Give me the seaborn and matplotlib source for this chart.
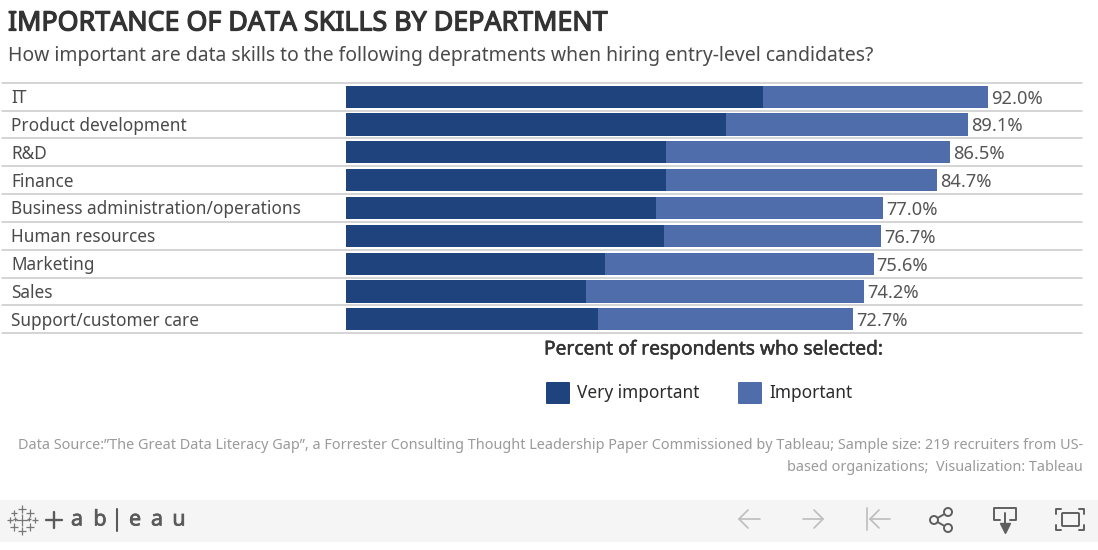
import matplotlib
matplotlib.use("Agg")
import matplotlib.pyplot as plt
import matplotlib.patheffects as pe
from matplotlib.patches import Rectangle, Circle, FancyBboxPatch
import pandas as pd
import seaborn as sns

departments = [
    "IT",
    "Product development",
    "R&D",
    "Finance",
    "Business administration/operations",
    "Human resources",
    "Marketing",
    "Sales",
    "Support/customer care",
]
very_important = [59.8, 54.5, 45.9, 45.9, 44.4, 45.6, 37.1, 34.4, 36.1]
important = [32.2, 34.6, 40.6, 38.8, 32.6, 31.1, 38.5, 39.8, 36.6]
total_labels = ["92.0%", "89.1%", "86.5%", "84.7%", "77.0%", "76.7%", "75.6%", "74.2%", "72.7%"]

DARK = "#1f447d"
LIGHT = "#4f6dab"
FONT = "Noto Sans"

sns.set_theme(style="white")
plt.rcParams["font.family"] = [FONT, "DejaVu Sans"]

df = pd.DataFrame({"department": departments, "very": very_important, "important": important})
df["total"] = df["very"] + df["important"]

fig = plt.figure(figsize=(10.98, 5.5), dpi=100)
W, H = 1098, 550

# chart runs from the top rule to the bottom rule, bars start at x=346
ax = fig.add_axes([2 / W, 1 - 333.2 / H, 1080 / W, 250.4 / H])
sns.barplot(data=df, y="department", x="total", color=LIGHT, width=0.8, saturation=1, linewidth=0, ax=ax, zorder=2)
sns.barplot(data=df, y="department", x="very", color=DARK, width=0.8, saturation=1, linewidth=0, ax=ax, zorder=3)

px_per_pct = 6.978
ax.set_xlim(-344 / px_per_pct, 736 / px_per_pct)
ax.set_ylim(len(departments) - 0.5, -0.5)
ax.set_xlabel("")
ax.set_ylabel("")
ax.set_xticks([])
ax.set_yticks([])
sns.despine(ax=ax, left=True, bottom=True)

for i in range(len(departments) + 1):
    ax.axhline(i - 0.5, color="#c9c9c9", lw=1.1, zorder=1, clip_on=False)

for i, name in enumerate(departments):
    ax.text(-48, i + 0.05, name, ha="left", va="center", fontsize=12.4, color="#4a4a4a")
    ax.text(df["total"][i] + 0.45, i + 0.07, total_labels[i], ha="left", va="center", fontsize=13.2, color="#555555")

# everything outside the plot is placed in pixel coordinates
ov = fig.add_axes([0, 0, 1, 1], zorder=-1)
ov.set_xlim(0, W)
ov.set_ylim(H, 0)
ov.axis("off")
top = fig.add_axes([0, 0, 1, 1], zorder=5)
top.set_xlim(0, W)
top.set_ylim(H, 0)
top.axis("off")
top.patch.set_alpha(0)

# Noto Sans only has the regular weight here, so heavier text gets a thin stroke
title = top.text(8, 23.5, "IMPORTANCE OF DATA SKILLS BY DEPARTMENT", fontsize=19.3,
                 color="#333333", va="center", ha="left")
title.set_path_effects([pe.withStroke(linewidth=0.9, foreground="#333333")])
top.text(8, 55.5, "How important are data skills to the following depratments when hiring entry-level candidates?",
         fontsize=13.95, color="#4a4a4a", va="center", ha="left")

legend_title = top.text(544, 349.5, "Percent of respondents who selected:", fontsize=13.8,
                        color="#333333", va="center", ha="left")
legend_title.set_path_effects([pe.withStroke(linewidth=0.35, foreground="#333333")])
top.add_patch(FancyBboxPatch((547, 383), 22, 20, boxstyle="round,pad=1", color=DARK, lw=0))
top.text(577, 392.5, "Very important", fontsize=12.4, color="#2b2b2b", va="center", ha="left")
top.add_patch(FancyBboxPatch((739, 383), 22, 20, boxstyle="round,pad=1", color=LIGHT, lw=0))
top.text(769, 392.5, "Important", fontsize=12.4, color="#2b2b2b", va="center", ha="left")

SOURCE_1 = ("Data Source:\u201dThe Great Data Literacy Gap\u201d, a Forrester Consulting Thought Leadership Paper "
            "Commissioned by Tableau; Sample size: 219 recruiters from US-")
SOURCE_2 = "based organizations;  Visualization: Tableau"
top.text(1083, 445.5, SOURCE_1, fontsize=10.4, color="#9a9a9a", va="center", ha="right")
top.text(1083, 467.5, SOURCE_2, fontsize=10.4, color="#9a9a9a", va="center", ha="right")

# toolbar strip
ov.add_patch(Rectangle((0, 500), W, 42, color="#f5f5f5", lw=0))

# tableau logo, small plus signs
logo_marks = [(22, 509, 6), (14, 513, 5), (30, 513, 6), (10, 520, 5), (22, 520, 8), (35, 520, 5),
              (14, 527, 6), (30, 527, 6), (22, 531, 6), (15, 519, 3), (29, 519, 3)]
for px, py, size in logo_marks:
    top.plot([px], [py], marker="+", ms=size, mew=0.9, color="#777777", ls="none")
top.plot([46, 62], [520, 520], color="#5a5a5a", lw=1.7)
top.plot([54, 54], [512, 528], color="#5a5a5a", lw=1.7)
for letter, px in zip("abeau", [77, 100, 135, 157, 179]):
    mark = top.text(px, 520, letter, fontsize=15.5, color="#5a5a5a", ha="center", va="center")
    mark.set_path_effects([pe.withStroke(linewidth=0.5, foreground="#5a5a5a")])
top.plot([117, 117], [509, 531], color="#5a5a5a", lw=1.5)

# toolbar icons
GREY_OFF = "#bdbdbd"
GREY_ON = "#5f5f5f"
top.plot([739, 760], [519, 519], color=GREY_OFF, lw=1.2)
top.plot([748, 739, 748], [510, 519, 528], color=GREY_OFF, lw=1.2)
top.plot([803, 823], [519, 519], color=GREY_OFF, lw=1.2)
top.plot([814, 823, 814], [510, 519, 528], color=GREY_OFF, lw=1.2)
top.plot([867, 867], [508, 530], color=GREY_OFF, lw=1.2)
top.plot([870, 890], [519, 519], color=GREY_OFF, lw=1.2)
top.plot([879, 870, 879], [510, 519, 528], color=GREY_OFF, lw=1.2)
top.plot([948, 934, 948], [512, 520, 528], color=GREY_ON, lw=1.4)
for cx, cy in [(948, 512), (934, 520), (948, 528)]:
    top.add_patch(Circle((cx, cy), 4, fc="#f5f5f5", ec=GREY_ON, lw=1.4, zorder=3))
top.plot([1000, 994, 994, 1016, 1016, 1010], [520, 520, 508, 508, 520, 520], color=GREY_ON, lw=1.4)
top.plot([1005, 1005], [513, 526], color=GREY_ON, lw=1.4)
top.plot([1005], [528], marker="v", ms=7, color=GREY_ON, ls="none")
top.add_patch(FancyBboxPatch((1063, 514), 15, 11, boxstyle="round,pad=1", fc="none", ec=GREY_ON, lw=1.4))
for xs, ys in [([1056, 1056, 1061], [514, 509, 509]), ([1079, 1084, 1084], [509, 509, 514]),
               ([1056, 1056, 1061], [525, 530, 530]), ([1079, 1084, 1084], [530, 530, 525])]:
    top.plot(xs, ys, color=GREY_ON, lw=1.4)

fig.savefig("out.png", dpi=100, facecolor="white")
